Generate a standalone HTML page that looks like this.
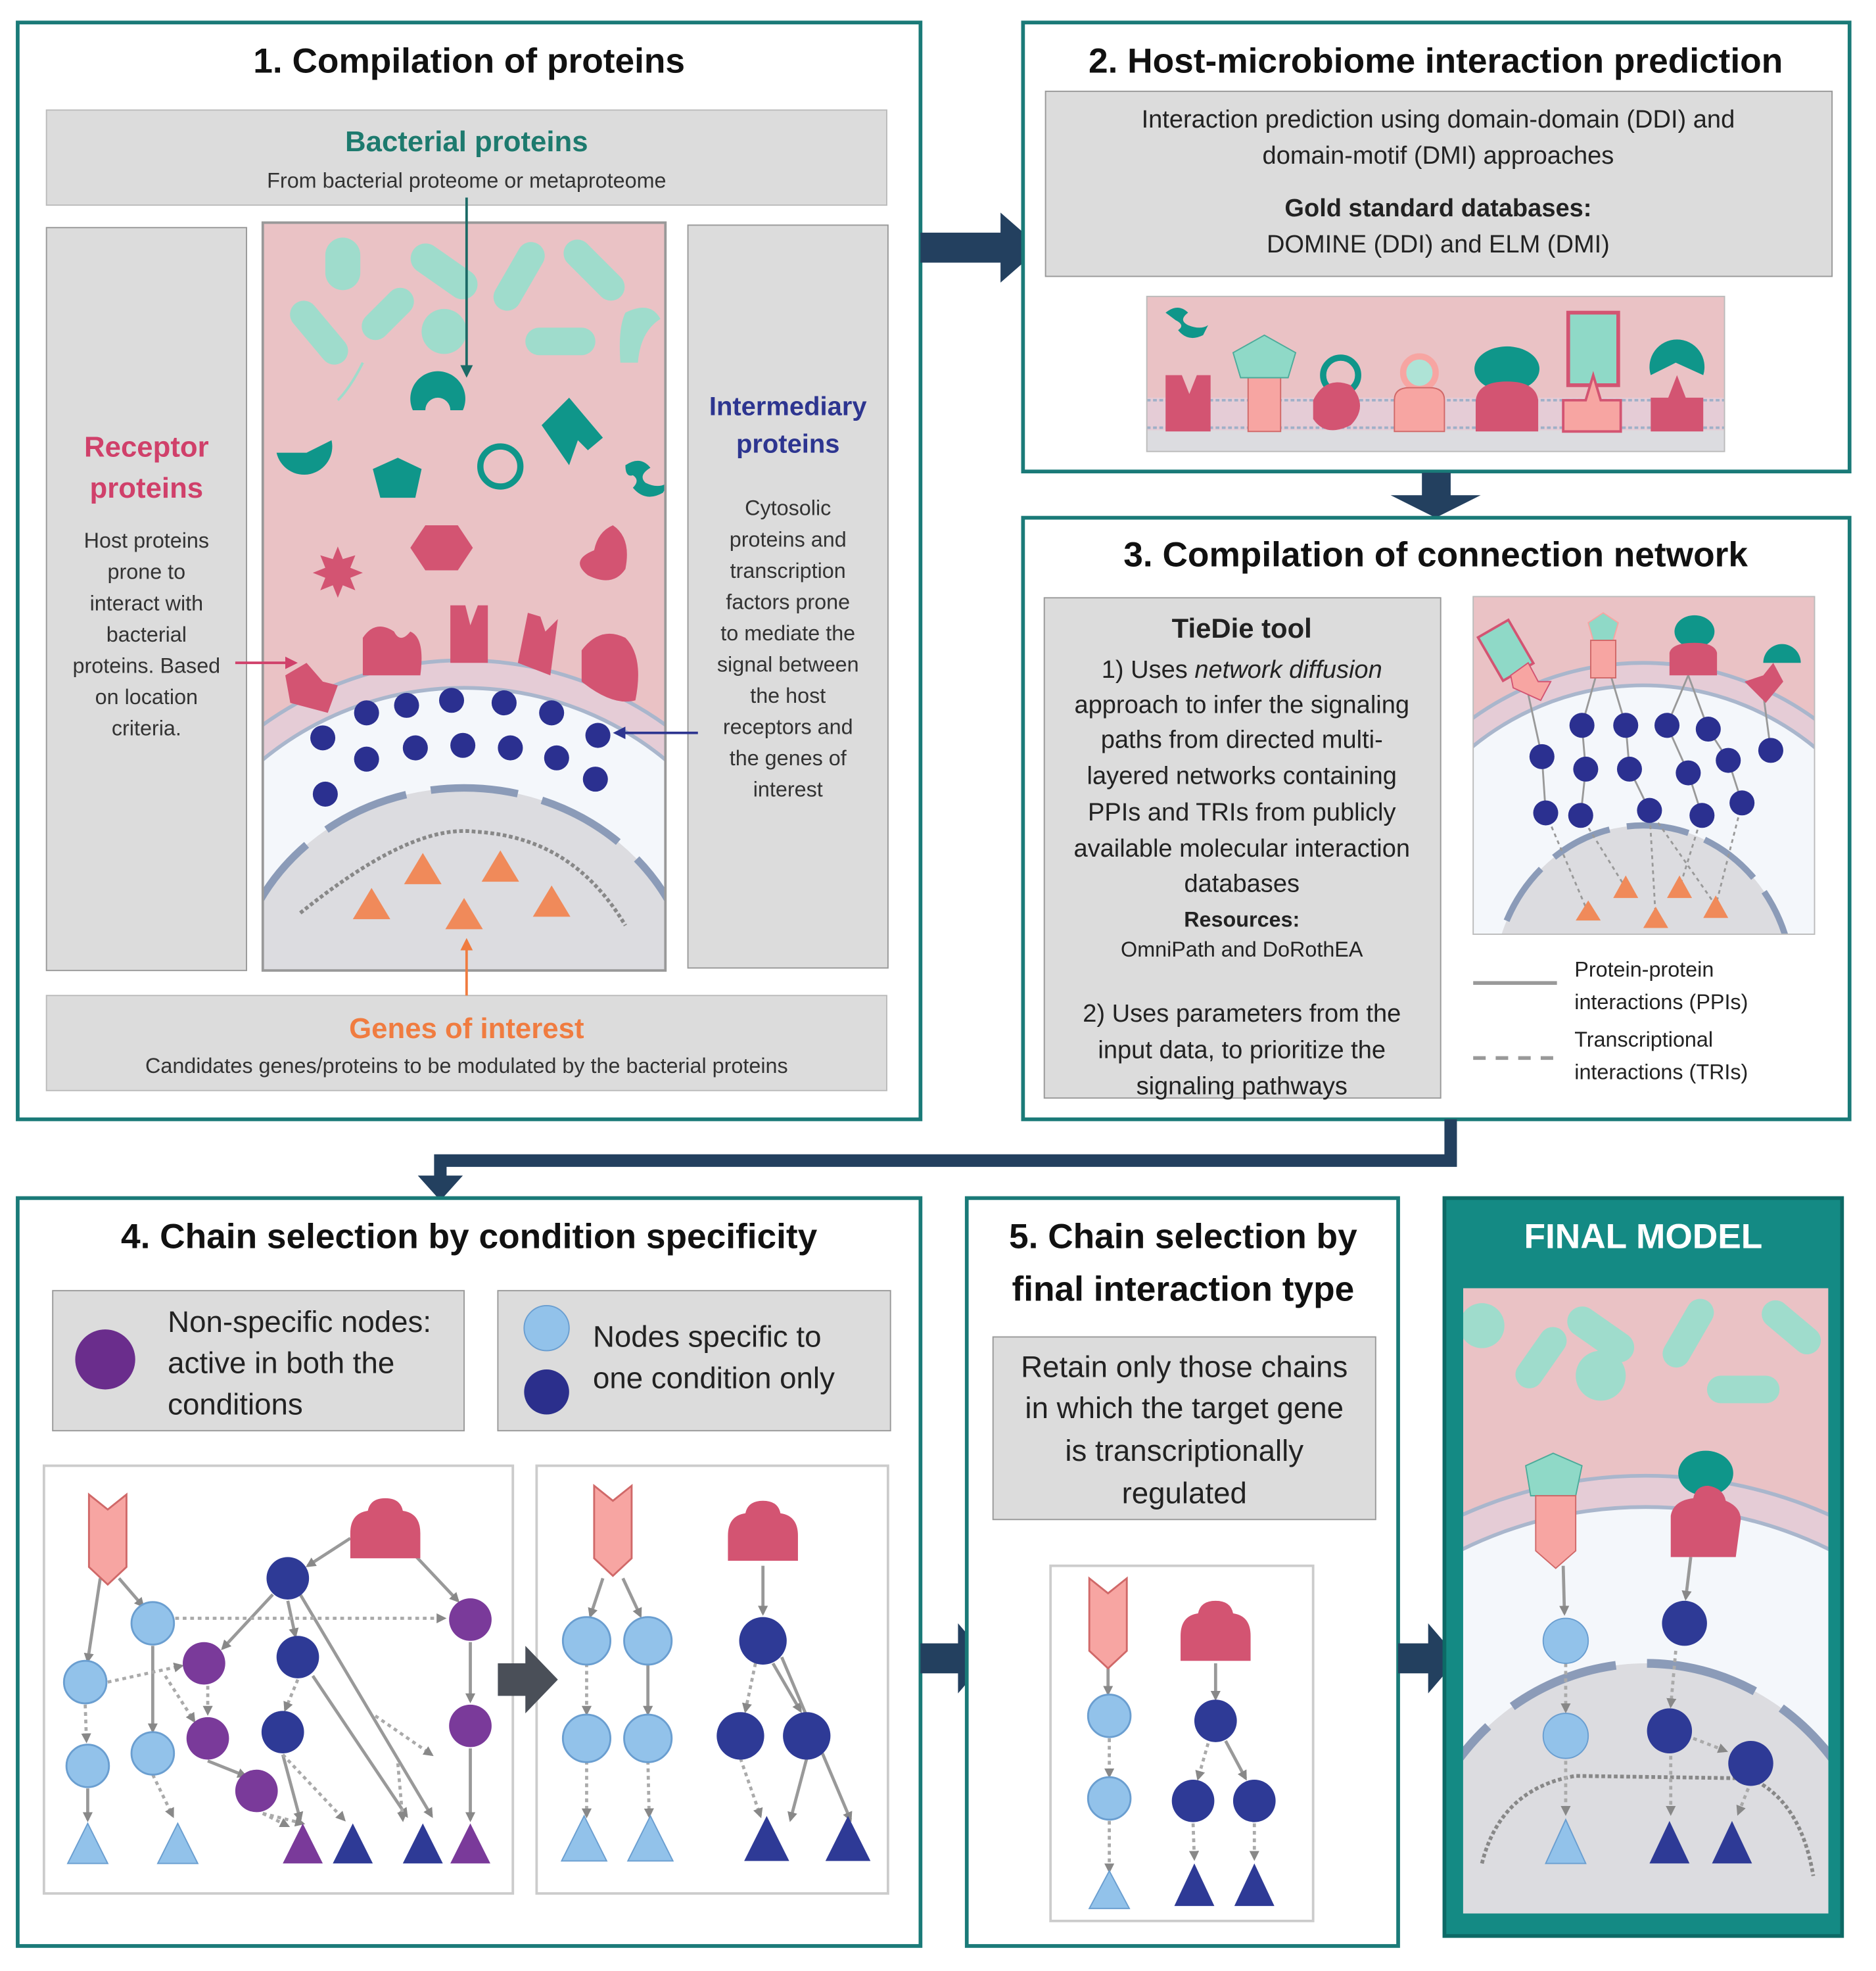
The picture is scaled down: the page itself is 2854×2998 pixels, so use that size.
<!DOCTYPE html>
<html><head><meta charset="utf-8"><style>
html,body{margin:0;padding:0;background:#fff;width:2854px;height:2998px;overflow:hidden}
svg{display:block}
text{font-family:"Liberation Sans",sans-serif}
</style></head><body>
<svg width="2854" height="2998" viewBox="0 0 1500 1576" xmlns="http://www.w3.org/2000/svg" style="width:2854px;height:2998px">
<defs>
<marker id="ag" markerWidth="8" markerHeight="8" refX="6" refY="4" orient="auto" markerUnits="userSpaceOnUse"><path d="M0,0 L8,4 L0,8 Z" fill="#888"/></marker>
<marker id="at" markerWidth="10" markerHeight="10" refX="8" refY="5" orient="auto" markerUnits="userSpaceOnUse"><path d="M0,0 L10,5 L0,10 Z" fill="#1b6a66"/></marker>
<marker id="ar" markerWidth="10" markerHeight="10" refX="8" refY="5" orient="auto" markerUnits="userSpaceOnUse"><path d="M0,0 L10,5 L0,10 Z" fill="#d0406a"/></marker>
<marker id="an" markerWidth="10" markerHeight="10" refX="8" refY="5" orient="auto" markerUnits="userSpaceOnUse"><path d="M0,0 L10,5 L0,10 Z" fill="#2d3590"/></marker>
<marker id="ao" markerWidth="10" markerHeight="10" refX="8" refY="5" orient="auto" markerUnits="userSpaceOnUse"><path d="M0,0 L10,5 L0,10 Z" fill="#f07c40"/></marker>
<g id="chev"><path d="M0,0 L15,12 L30,0 L30,58 L15,72 L0,58 Z" fill="#f7a5a2" stroke="#d06868" stroke-width="1.5"/></g>
<g id="bell"><path d="M0,48 L0,28 Q0,12 14,10 Q16,0 28,0 Q40,0 42,10 Q56,12 56,28 L56,48 Z" fill="#d35472"/></g>
<clipPath id="c1"><rect x="210" y="178" width="322" height="598"/></clipPath>
<clipPath id="c3"><rect x="1178" y="477" width="273" height="270"/></clipPath>
<clipPath id="cf"><rect x="1170" y="1030" width="292" height="500"/></clipPath>
<clipPath id="c2"><rect x="917" y="237" width="462" height="124"/></clipPath>
</defs>

<rect x="14" y="18" width="722" height="877" fill="#fff" stroke="#1a7a78" stroke-width="3"/>
<text x="375" y="58" font-size="28" font-weight="bold" text-anchor="middle" fill="#111">1. Compilation of proteins</text>
<rect x="37" y="88" width="672" height="76" fill="#dcdcdc" stroke="#bbb"/>
<text x="373" y="121" font-size="23" font-weight="bold" text-anchor="middle" fill="#1d7a6e">Bacterial proteins</text>
<text x="373" y="150" font-size="17" text-anchor="middle" fill="#333">From bacterial proteome or metaproteome</text>
<rect x="37" y="182" width="160" height="594" fill="#dcdcdc" stroke="#999"/>
<text x="117" y="365" font-size="23" font-weight="bold" text-anchor="middle" fill="#d0406a">Receptor</text>
<text x="117" y="398" font-size="23" font-weight="bold" text-anchor="middle" fill="#d0406a">proteins</text>
<g font-size="17" text-anchor="middle" fill="#333">
<text x="117" y="438">Host proteins</text><text x="117" y="463">prone to</text><text x="117" y="488">interact with</text><text x="117" y="513">bacterial</text><text x="117" y="538">proteins. Based</text><text x="117" y="563">on location</text><text x="117" y="588">criteria.</text></g>
<rect x="550" y="180" width="160" height="594" fill="#dcdcdc" stroke="#999"/>
<text x="630" y="332" font-size="21" font-weight="bold" text-anchor="middle" fill="#2d3590">Intermediary</text>
<text x="630" y="362" font-size="21" font-weight="bold" text-anchor="middle" fill="#2d3590">proteins</text>
<g font-size="17" text-anchor="middle" fill="#333">
<text x="630" y="412">Cytosolic</text><text x="630" y="437">proteins and</text><text x="630" y="462">transcription</text><text x="630" y="487">factors prone</text><text x="630" y="512">to mediate the</text><text x="630" y="537">signal between</text><text x="630" y="562">the host</text><text x="630" y="587">receptors and</text><text x="630" y="612">the genes of</text><text x="630" y="637">interest</text></g>
<rect x="37" y="796" width="672" height="76" fill="#dcdcdc" stroke="#bbb"/>
<text x="373" y="830" font-size="23" font-weight="bold" text-anchor="middle" fill="#f07c40">Genes of interest</text>
<text x="373" y="858" font-size="17" text-anchor="middle" fill="#333">Candidates genes/proteins to be modulated by the bacterial proteins</text>

<g clip-path="url(#c1)">
<rect x="210" y="178" width="322" height="598" fill="#eac2c5"/>
<ellipse cx="371" cy="790" rx="270" ry="262" fill="#e5ccd6" stroke="#a9b6cc" stroke-width="3"/>
<ellipse cx="371" cy="790" rx="248" ry="240" fill="#f4f7fb" stroke="#a9b6cc" stroke-width="3"/>
<ellipse cx="371" cy="800" rx="185" ry="170" fill="#dcdce0"/>
<ellipse cx="371" cy="800" rx="185" ry="170" fill="none" stroke="#8b9bb8" stroke-width="6" stroke-dasharray="70 20"/>
<path d="M240,730 C290,690 340,660 380,665 C430,668 470,690 500,740" fill="none" stroke="#888" stroke-width="3" stroke-dasharray="3 2"/>
<g fill="#9fdccc">
<rect x="260" y="190" width="28" height="42" rx="14"/>
<rect x="325" y="205" width="60" height="24" rx="12" transform="rotate(35 355 217)"/>
<rect x="385" y="210" width="60" height="22" rx="11" transform="rotate(-60 415 221)"/>
<rect x="445" y="205" width="60" height="22" rx="11" transform="rotate(45 475 216)"/>
<rect x="225" y="255" width="60" height="22" rx="11" transform="rotate(50 255 266)"/>
<rect x="285" y="240" width="50" height="22" rx="11" transform="rotate(-45 310 251)"/>
<circle cx="355" cy="265" r="18"/>
<rect x="420" y="262" width="56" height="22" rx="11"/>
<path d="M500,250 Q520,240 528,255 Q512,265 510,290 L496,290 Q494,262 500,250Z"/>
</g>
<path d="M290,290 Q280,310 270,320" stroke="#9fdccc" stroke-width="2" fill="none"/>
<g fill="#0f968a">
<path d="M330,328 A22,22 0 1 1 370,328 L360,328 A10,10 0 1 0 340,328 Z"/>
<path d="M243,362 m-22,0 a22,22 0 1 0 44,-10 l-20,10 z"/>
<polygon points="318,366 337,375 332,398 304,398 298,375"/>
<polygon points="433,340 455,318 482,350 470,360 462,352 455,372"/>
<path d="M500,372 q12,-8 20,2 q-10,6 -4,12 q12,6 20,-2 l-6,10 q-14,8 -24,-4 q6,-6 0,-10 q-6,2 -6,-8z"/>
</g>
<circle cx="400" cy="373" r="16" fill="none" stroke="#0f968a" stroke-width="5"/>
<g fill="#d35472">
<polygon points="340,420 366,420 378,438 366,456 340,456 328,438"/>
<polygon points="270,437 274,447 284,444 280,454 290,458 280,462 284,472 274,468 270,478 266,468 256,472 260,462 250,458 260,454 256,444 266,447"/>
<path d="M490,420 Q505,430 500,455 Q490,470 470,460 Q455,448 475,440 Q478,425 490,420Z"/>
<path d="M228,540 L245,530 L258,545 L270,548 L262,570 L232,562Z"/>
<path d="M290,510 Q300,495 315,505 Q320,515 328,505 Q340,510 336,540 L290,540Z"/>
<path d="M360,484 L372,484 L376,500 L382,484 L390,484 L390,530 L360,530Z"/>
<path d="M422,490 L432,493 L436,505 L446,495 L440,540 L414,530Z"/>
<path d="M465,520 Q480,500 500,510 Q515,525 508,560 Q490,565 465,545Z"/>
</g>
<g fill="#2b3090">
<circle cx="258" cy="590" r="10"/><circle cx="293" cy="570" r="10"/><circle cx="325" cy="564" r="10"/><circle cx="361" cy="560" r="10"/><circle cx="403" cy="562" r="10"/><circle cx="441" cy="570" r="10"/><circle cx="478" cy="588" r="10"/>
<circle cx="293" cy="607" r="10"/><circle cx="332" cy="598" r="10"/><circle cx="370" cy="596" r="10"/><circle cx="408" cy="598" r="10"/><circle cx="445" cy="606" r="10"/><circle cx="476" cy="623" r="10"/><circle cx="260" cy="635" r="10"/>
</g>
<g fill="#f08a5a"><polygon points="297,710 312,735 282,735"/><polygon points="338,682 353,707 323,707"/><polygon points="400,680 415,705 385,705"/><polygon points="371,718 386,743 356,743"/><polygon points="441,708 456,733 426,733"/></g>
</g>
<rect x="210" y="178" width="322" height="598" fill="none" stroke="#999" stroke-width="2"/>
<line x1="373" y1="158" x2="373" y2="300" stroke="#1b6a66" stroke-width="2" marker-end="url(#at)"/>
<line x1="188" y1="530" x2="236" y2="530" stroke="#d0406a" stroke-width="2" marker-end="url(#ar)"/>
<line x1="558" y1="586" x2="492" y2="586" stroke="#2d3590" stroke-width="2" marker-end="url(#an)"/>
<line x1="373" y1="796" x2="373" y2="752" stroke="#f07c40" stroke-width="2" marker-end="url(#ao)"/>

<path d="M736,186 L800,186 L800,170 L832,198 L800,226 L800,210 L736,210Z" fill="#23405f"/>

<rect x="818" y="18" width="661" height="359" fill="#fff" stroke="#1a7a78" stroke-width="3"/>
<text x="1148" y="58" font-size="28" font-weight="bold" text-anchor="middle" fill="#111">2. Host-microbiome interaction prediction</text>
<rect x="836" y="73" width="629" height="148" fill="#dcdcdc" stroke="#999"/>
<g font-size="20" text-anchor="middle" fill="#222">
<text x="1150" y="102">Interaction prediction using domain-domain (DDI) and</text>
<text x="1150" y="131">domain-motif (DMI) approaches</text>
<text x="1150" y="173" font-weight="bold">Gold standard databases:</text>
<text x="1150" y="202">DOMINE (DDI) and ELM (DMI)</text></g>
<g clip-path="url(#c2)">
<rect x="917" y="237" width="462" height="124" fill="#eac2c5"/>
<rect x="917" y="318" width="462" height="26" fill="#e5ccd6"/>
<line x1="917" y1="320" x2="1379" y2="320" stroke="#9fb0c8" stroke-width="2" stroke-dasharray="3 2"/>
<line x1="917" y1="342" x2="1379" y2="342" stroke="#9fb0c8" stroke-width="2" stroke-dasharray="3 2"/>
<rect x="917" y="344" width="462" height="17" fill="#dcdce0"/>
<path d="M932,250 q10,-8 18,0 q-8,6 0,10 q10,4 16,0 l-4,8 q-12,6 -20,-4 q6,-4 -2,-8z" fill="#0f968a"/>
<path d="M932,300 L945,300 L951,315 L957,300 L968,300 L968,345 L932,345Z" fill="#d35472"/>
<rect x="998" y="295" width="26" height="50" fill="#f7a5a2" stroke="#d06868"/>
<polygon points="1011,268 1036,282 1030,302 992,302 986,282" fill="#8fd9c7" stroke="#4cab9a"/>
<circle cx="1072" cy="300" r="14" fill="none" stroke="#0f968a" stroke-width="5"/>
<path d="M1050,320 Q1060,300 1080,308 Q1095,325 1080,340 Q1060,350 1050,335Z" fill="#d35472"/>
<circle cx="1135" cy="298" r="13" fill="#aee3d6" stroke="#f7a5a2" stroke-width="5"/>
<path d="M1115,345 L1115,320 Q1115,310 1127,310 L1143,310 Q1155,310 1155,320 L1155,345Z" fill="#f7a5a2" stroke="#d06868"/>
<ellipse cx="1205" cy="295" rx="26" ry="18" fill="#0f968a"/>
<path d="M1180,345 L1180,320 Q1182,305 1205,305 Q1228,305 1230,320 L1230,345Z" fill="#d35472"/>
<rect x="1254" y="250" width="40" height="58" fill="#8fd9c7" stroke="#d35472" stroke-width="3"/>
<path d="M1250,345 L1250,320 L1268,320 L1274,300 L1280,320 L1296,320 L1296,345Z" fill="#f7a5a2" stroke="#d35472" stroke-width="2"/>
<path d="M1320,300 A22,22 0 1 1 1362,300 L1340,290Z" fill="#0f968a"/>
<path d="M1320,345 L1320,318 L1334,318 L1341,300 L1348,318 L1362,318 L1362,345Z" fill="#d35472"/>
</g>
<rect x="917" y="237" width="462" height="124" fill="none" stroke="#bbb"/>

<path d="M1137,378 L1160,378 L1160,396 L1184,396 L1148,414 L1112,396 L1137,396Z" fill="#23405f"/>

<rect x="818" y="414" width="661" height="481" fill="#fff" stroke="#1a7a78" stroke-width="3"/>
<text x="1148" y="453" font-size="28" font-weight="bold" text-anchor="middle" fill="#111">3. Compilation of connection network</text>
<rect x="835" y="478" width="317" height="400" fill="#dcdcdc" stroke="#999"/>
<g text-anchor="middle" fill="#222" font-size="20">
<text x="993" y="510" font-size="22" font-weight="bold">TieDie tool</text>
<text x="993" y="542">1) Uses <tspan font-style="italic">network diffusion</tspan></text>
<text x="993" y="570">approach to infer the signaling</text>
<text x="993" y="598">paths from directed multi-</text>
<text x="993" y="627">layered networks containing</text>
<text x="993" y="656">PPIs and TRIs from publicly</text>
<text x="993" y="685">available molecular interaction</text>
<text x="993" y="713">databases</text>
<text x="993" y="741" font-size="17" font-weight="bold">Resources:</text>
<text x="993" y="765" font-size="17">OmniPath and DoRothEA</text>
<text x="993" y="817">2) Uses parameters from the</text>
<text x="993" y="846">input data, to prioritize the</text>
<text x="993" y="875">signaling pathways</text></g>
<g clip-path="url(#c3)">
<rect x="1178" y="477" width="273" height="270" fill="#eac2c5"/>
<ellipse cx="1314" cy="780" rx="240" ry="250" fill="#e5ccd6" stroke="#a9b6cc" stroke-width="3"/>
<ellipse cx="1314" cy="780" rx="222" ry="232" fill="#f4f7fb" stroke="#a9b6cc" stroke-width="3"/>
<ellipse cx="1314" cy="790" rx="120" ry="130" fill="#dcdce0" stroke="#8b9bb8" stroke-width="5" stroke-dasharray="50 14"/>
<g stroke="#999" stroke-width="1.5">
<line x1="1222" y1="555" x2="1233" y2="605"/><line x1="1282" y1="520" x2="1265" y2="580"/><line x1="1282" y1="520" x2="1300" y2="580"/><line x1="1350" y1="540" x2="1333" y2="580"/><line x1="1350" y1="540" x2="1366" y2="583"/><line x1="1410" y1="555" x2="1416" y2="600"/>
<line x1="1265" y1="580" x2="1268" y2="615"/><line x1="1300" y1="580" x2="1303" y2="615"/><line x1="1333" y1="580" x2="1350" y2="618"/><line x1="1366" y1="583" x2="1382" y2="608"/><line x1="1233" y1="605" x2="1236" y2="650"/><line x1="1268" y1="615" x2="1264" y2="652"/><line x1="1303" y1="615" x2="1319" y2="648"/><line x1="1350" y1="618" x2="1361" y2="652"/><line x1="1382" y1="608" x2="1393" y2="642"/>
<line x1="1236" y1="650" x2="1270" y2="730" stroke-dasharray="3 3"/><line x1="1264" y1="652" x2="1300" y2="710" stroke-dasharray="3 3"/><line x1="1319" y1="648" x2="1324" y2="735" stroke-dasharray="3 3"/><line x1="1361" y1="652" x2="1343" y2="710" stroke-dasharray="3 3"/><line x1="1393" y1="642" x2="1372" y2="724" stroke-dasharray="3 3"/><line x1="1319" y1="648" x2="1372" y2="724" stroke-dasharray="3 3"/>
</g>
<g fill="#2b3090"><circle cx="1265" cy="580" r="10"/><circle cx="1300" cy="580" r="10"/><circle cx="1333" cy="580" r="10"/><circle cx="1366" cy="583" r="10"/><circle cx="1233" cy="605" r="10"/><circle cx="1416" cy="600" r="10"/><circle cx="1268" cy="615" r="10"/><circle cx="1303" cy="615" r="10"/><circle cx="1350" cy="618" r="10"/><circle cx="1382" cy="608" r="10"/><circle cx="1236" cy="650" r="10"/><circle cx="1264" cy="652" r="10"/><circle cx="1319" cy="648" r="10"/><circle cx="1361" cy="652" r="10"/><circle cx="1393" cy="642" r="10"/></g>
<g fill="#f08a5a"><polygon points="1270,720 1280,736 1260,736"/><polygon points="1300,700 1310,718 1290,718"/><polygon points="1324,725 1334,742 1314,742"/><polygon points="1343,700 1353,718 1333,718"/><polygon points="1372,716 1382,734 1362,734"/></g>
<rect x="1190" y="500" width="28" height="40" fill="#8fd9c7" stroke="#d35472" stroke-width="2" transform="rotate(-30 1204 520)"/>
<path d="M1208,540 L1222,530 L1230,545 L1240,545 L1232,560 L1210,550Z" fill="#f7a5a2" stroke="#d35472"/>
<polygon points="1282,490 1294,498 1290,512 1274,512 1270,498" fill="#8fd9c7" stroke="#f7a5a2"/>
<rect x="1272" y="512" width="20" height="30" fill="#f7a5a2" stroke="#d06868"/>
<ellipse cx="1355" cy="505" rx="16" ry="13" fill="#0f968a"/>
<path d="M1335,540 L1335,522 Q1337,514 1355,514 Q1371,514 1373,522 L1373,540Z" fill="#d35472"/>
<path d="M1410,530 A14,14 0 1 1 1440,530Z" fill="#0f968a"/>
<path d="M1395,545 L1410,540 L1418,530 L1426,545 L1412,562Z" fill="#d35472"/>
</g>
<rect x="1178" y="477" width="273" height="270" fill="none" stroke="#bbb"/>
<line x1="1178" y1="786" x2="1245" y2="786" stroke="#999" stroke-width="3"/>
<line x1="1178" y1="846" x2="1245" y2="846" stroke="#999" stroke-width="3" stroke-dasharray="10 8"/>
<g font-size="17" fill="#222"><text x="1259" y="781">Protein-protein</text><text x="1259" y="807">interactions (PPIs)</text><text x="1259" y="837">Transcriptional</text><text x="1259" y="863">interactions (TRIs)</text></g>

<path d="M1160,895 L1160,928 L352,928 L352,944" fill="none" stroke="#23405f" stroke-width="10"/>
<polygon points="334,940 370,940 352,960" fill="#23405f"/>

<rect x="14" y="958" width="722" height="598" fill="#fff" stroke="#1a7a78" stroke-width="3"/>
<text x="375" y="998" font-size="28" font-weight="bold" text-anchor="middle" fill="#111">4. Chain selection by condition specificity</text>
<rect x="42" y="1032" width="329" height="112" fill="#dcdcdc" stroke="#999"/>
<circle cx="84" cy="1087" r="24" fill="#6a2d8c"/>
<g font-size="24" fill="#222"><text x="134" y="1065">Non-specific nodes:</text><text x="134" y="1098">active in both the</text><text x="134" y="1131">conditions</text></g>
<rect x="398" y="1032" width="314" height="112" fill="#dcdcdc" stroke="#999"/>
<circle cx="437" cy="1062" r="18" fill="#92c2ea" stroke="#6a9ed0"/>
<circle cx="437" cy="1113" r="18" fill="#2b2f8c"/>
<g font-size="24" fill="#222"><text x="474" y="1077">Nodes specific to</text><text x="474" y="1110">one condition only</text></g>
<rect x="35" y="1172" width="375" height="342" fill="#fff" stroke="#ccc" stroke-width="2"/>
<rect x="429" y="1172" width="281" height="342" fill="#fff" stroke="#ccc" stroke-width="2"/>
<g stroke="#999" stroke-width="2.5" fill="none" marker-end="url(#ag)">
<line x1="80" y1="1262" x2="70" y2="1328"/><line x1="95" y1="1262" x2="114" y2="1284"/>
<line x1="122" y1="1316" x2="122" y2="1384"/><line x1="280" y1="1230" x2="246" y2="1252"/><line x1="333" y1="1245" x2="366" y2="1280"/>
<line x1="230" y1="1280" x2="236" y2="1308"/><line x1="218" y1="1275" x2="178" y2="1318"/><line x1="240" y1="1275" x2="345" y2="1452"/>
<line x1="376" y1="1313" x2="376" y2="1360"/><line x1="376" y1="1398" x2="376" y2="1455"/><line x1="70" y1="1430" x2="70" y2="1455"/>
<line x1="166" y1="1408" x2="196" y2="1420"/><line x1="250" y1="1340" x2="325" y2="1452"/><line x1="226" y1="1403" x2="240" y2="1455"/>
</g>
<g stroke="#aaa" stroke-width="2.5" fill="none" stroke-dasharray="3 3" marker-end="url(#ag)">
<line x1="140" y1="1294" x2="355" y2="1294"/><line x1="86" y1="1345" x2="145" y2="1332"/><line x1="68" y1="1363" x2="69" y2="1392"/>
<line x1="122" y1="1419" x2="138" y2="1452"/><line x1="132" y1="1340" x2="155" y2="1376"/><line x1="166" y1="1348" x2="166" y2="1370"/>
<line x1="238" y1="1343" x2="228" y2="1367"/><line x1="210" y1="1450" x2="230" y2="1460"/><line x1="226" y1="1403" x2="275" y2="1455"/>
<line x1="300" y1="1372" x2="345" y2="1403"/><line x1="318" y1="1410" x2="322" y2="1455"/><line x1="210" y1="1450" x2="242" y2="1458"/>
</g>
<use href="#chev" x="71" y="1195"/>
<use href="#bell" x="280" y="1198"/>
<g fill="#92c2ea" stroke="#6a9ed0" stroke-width="1.5"><circle cx="122" cy="1298" r="17"/><circle cx="68" cy="1345" r="17"/><circle cx="70" cy="1412" r="17"/><circle cx="122" cy="1402" r="17"/></g>
<g fill="#7a3a9a"><circle cx="163" cy="1330" r="17"/><circle cx="166" cy="1390" r="17"/><circle cx="205" cy="1432" r="17"/><circle cx="376" cy="1295" r="17"/><circle cx="376" cy="1380" r="17"/></g>
<g fill="#2e3a96"><circle cx="230" cy="1262" r="17"/><circle cx="238" cy="1325" r="17"/><circle cx="226" cy="1385" r="17"/></g>
<g><polygon points="70,1458 86,1490 54,1490" fill="#92c2ea" stroke="#6a9ed0"/><polygon points="142,1458 158,1490 126,1490" fill="#92c2ea" stroke="#6a9ed0"/>
<polygon points="242,1458 258,1490 226,1490" fill="#7a3a9a"/><polygon points="376,1458 392,1490 360,1490" fill="#7a3a9a"/>
<polygon points="282,1458 298,1490 266,1490" fill="#2e3a96"/><polygon points="338,1458 354,1490 322,1490" fill="#2e3a96"/></g>
<path d="M398,1330 L420,1330 L420,1316 L446,1343 L420,1370 L420,1356 L398,1356Z" fill="#4a4f58"/>
<g stroke="#999" stroke-width="2.5" fill="none" marker-end="url(#ag)">
<line x1="482" y1="1262" x2="472" y2="1292"/><line x1="498" y1="1262" x2="512" y2="1292"/><line x1="518" y1="1330" x2="518" y2="1370"/>
<line x1="610" y1="1252" x2="610" y2="1290"/><line x1="618" y1="1330" x2="640" y2="1368"/><line x1="625" y1="1325" x2="680" y2="1455"/><line x1="645" y1="1406" x2="632" y2="1455"/>
</g>
<g stroke="#aaa" stroke-width="2.5" fill="none" stroke-dasharray="3 3" marker-end="url(#ag)">
<line x1="469" y1="1330" x2="469" y2="1370"/><line x1="469" y1="1408" x2="469" y2="1452"/><line x1="518" y1="1408" x2="519" y2="1452"/>
<line x1="604" y1="1330" x2="596" y2="1368"/><line x1="592" y1="1406" x2="608" y2="1452"/>
</g>
<use href="#chev" x="475" y="1188"/>
<use href="#bell" x="582" y="1200"/>
<g fill="#92c2ea" stroke="#6a9ed0" stroke-width="1.5"><circle cx="469" cy="1312" r="19"/><circle cx="518" cy="1312" r="19"/><circle cx="469" cy="1390" r="19"/><circle cx="518" cy="1390" r="19"/></g>
<g fill="#2e3a96"><circle cx="610" cy="1312" r="19"/><circle cx="592" cy="1388" r="19"/><circle cx="645" cy="1388" r="19"/></g>
<polygon points="467,1452 485,1488 449,1488" fill="#92c2ea" stroke="#6a9ed0"/><polygon points="520,1452 538,1488 502,1488" fill="#92c2ea" stroke="#6a9ed0"/>
<polygon points="613,1452 631,1488 595,1488" fill="#2e3a96"/><polygon points="678,1452 696,1488 660,1488" fill="#2e3a96"/>

<path d="M736,1314 L766,1314 L766,1298 L790,1326 L766,1354 L766,1338 L736,1338Z" fill="#23405f"/>

<rect x="773" y="958" width="345" height="598" fill="#fff" stroke="#1a7a78" stroke-width="3"/>
<text x="946" y="998" font-size="28" font-weight="bold" text-anchor="middle" fill="#111">5. Chain selection by</text>
<text x="946" y="1040" font-size="28" font-weight="bold" text-anchor="middle" fill="#111">final interaction type</text>
<rect x="794" y="1069" width="306" height="146" fill="#dcdcdc" stroke="#999"/>
<g font-size="24" text-anchor="middle" fill="#222"><text x="947" y="1101">Retain only those chains</text><text x="947" y="1134">in which the target gene</text><text x="947" y="1168">is transcriptionally</text><text x="947" y="1202">regulated</text></g>
<rect x="840" y="1252" width="210" height="284" fill="#fff" stroke="#ccc" stroke-width="2"/>
<g stroke="#999" stroke-width="2.5" fill="none" marker-end="url(#ag)">
<line x1="886" y1="1334" x2="886" y2="1354"/><line x1="972" y1="1330" x2="972" y2="1358"/><line x1="980" y1="1392" x2="996" y2="1422"/>
</g>
<g stroke="#aaa" stroke-width="2.5" fill="none" stroke-dasharray="3 3" marker-end="url(#ag)">
<line x1="887" y1="1390" x2="887" y2="1420"/><line x1="887" y1="1456" x2="887" y2="1496"/><line x1="966" y1="1394" x2="958" y2="1422"/><line x1="954" y1="1458" x2="955" y2="1486"/><line x1="1003" y1="1458" x2="1003" y2="1486"/>
</g>
<use href="#chev" x="871" y="1262"/>
<use href="#bell" x="944" y="1280"/>
<g fill="#92c2ea" stroke="#6a9ed0" stroke-width="1.5"><circle cx="887" cy="1372" r="17"/><circle cx="887" cy="1438" r="17"/></g>
<g fill="#2e3a96"><circle cx="972" cy="1376" r="17"/><circle cx="954" cy="1440" r="17"/><circle cx="1003" cy="1440" r="17"/></g>
<polygon points="887,1496 903,1526 871,1526" fill="#92c2ea" stroke="#6a9ed0"/>
<polygon points="955,1490 971,1524 939,1524" fill="#2e3a96"/><polygon points="1003,1490 1019,1524 987,1524" fill="#2e3a96"/>

<path d="M1118,1314 L1142,1314 L1142,1298 L1166,1326 L1142,1354 L1142,1338 L1118,1338Z" fill="#23405f"/>

<rect x="1155" y="958" width="318" height="590" fill="#148a84" stroke="#0d6a66" stroke-width="3"/>
<text x="1314" y="998" font-size="28" font-weight="bold" text-anchor="middle" fill="#fff">FINAL MODEL</text>
<g clip-path="url(#cf)">
<rect x="1170" y="1030" width="292" height="500" fill="#eac2c5"/>
<ellipse cx="1316" cy="1480" rx="330" ry="300" fill="#e5ccd6" stroke="#a9b6cc" stroke-width="3"/>
<ellipse cx="1316" cy="1480" rx="305" ry="275" fill="#f4f7fb" stroke="#a9b6cc" stroke-width="3"/>
<ellipse cx="1316" cy="1530" rx="190" ry="200" fill="#dcdce0"/>
<ellipse cx="1316" cy="1530" rx="190" ry="200" fill="none" stroke="#8b9bb8" stroke-width="7" stroke-dasharray="90 25"/>
<path d="M1185,1490 Q1200,1430 1260,1420 L1400,1422 Q1440,1440 1450,1500" fill="none" stroke="#888" stroke-width="3" stroke-dasharray="3 2"/>
<g fill="#9fdccc">
<circle cx="1185" cy="1060" r="18"/><rect x="1205" y="1075" width="55" height="22" rx="11" transform="rotate(-55 1232 1086)"/>
<rect x="1250" y="1055" width="60" height="24" rx="12" transform="rotate(35 1280 1067)"/><circle cx="1280" cy="1100" r="20"/>
<rect x="1320" y="1055" width="60" height="22" rx="11" transform="rotate(-60 1350 1066)"/><rect x="1365" y="1100" width="58" height="22" rx="11"/>
<rect x="1405" y="1050" width="55" height="22" rx="11" transform="rotate(40 1432 1061)"/>
</g>
<g stroke="#999" stroke-width="2.5" fill="none" marker-end="url(#ag)"><line x1="1250" y1="1252" x2="1251" y2="1290"/><line x1="1352" y1="1245" x2="1348" y2="1278"/></g>
<g stroke="#aaa" stroke-width="2.5" fill="none" stroke-dasharray="3 3" marker-end="url(#ag)"><line x1="1252" y1="1330" x2="1252" y2="1368"/><line x1="1252" y1="1408" x2="1252" y2="1450"/><line x1="1340" y1="1320" x2="1336" y2="1364"/><line x1="1336" y1="1404" x2="1336" y2="1450"/><line x1="1354" y1="1390" x2="1380" y2="1400"/><line x1="1398" y1="1430" x2="1390" y2="1450"/></g>
<polygon points="1242,1162 1265,1172 1260,1196 1224,1196 1220,1172" fill="#8fd9c7" stroke="#4cab9a"/>
<path d="M1228,1196 L1260,1196 L1260,1240 L1244,1254 L1228,1240Z" fill="#f7a5a2" stroke="#d06868"/>
<ellipse cx="1364" cy="1178" rx="22" ry="18" fill="#0f968a"/>
<path d="M1336,1245 L1336,1212 Q1338,1200 1354,1198 Q1356,1188 1366,1188 Q1378,1190 1380,1200 Q1392,1205 1392,1215 L1388,1245Z" fill="#d35472"/>
<circle cx="1252" cy="1312" r="18" fill="#92c2ea" stroke="#6a9ed0"/><circle cx="1252" cy="1388" r="18" fill="#92c2ea" stroke="#6a9ed0"/>
<g fill="#2e3a96"><circle cx="1347" cy="1298" r="18"/><circle cx="1335" cy="1384" r="18"/><circle cx="1400" cy="1410" r="18"/></g>
<polygon points="1252,1455 1268,1490 1236,1490" fill="#92c2ea" stroke="#6a9ed0"/>
<polygon points="1335,1456 1351,1490 1319,1490" fill="#2e3a96"/><polygon points="1385,1456 1401,1490 1369,1490" fill="#2e3a96"/>
</g>
</svg>
</body></html>
